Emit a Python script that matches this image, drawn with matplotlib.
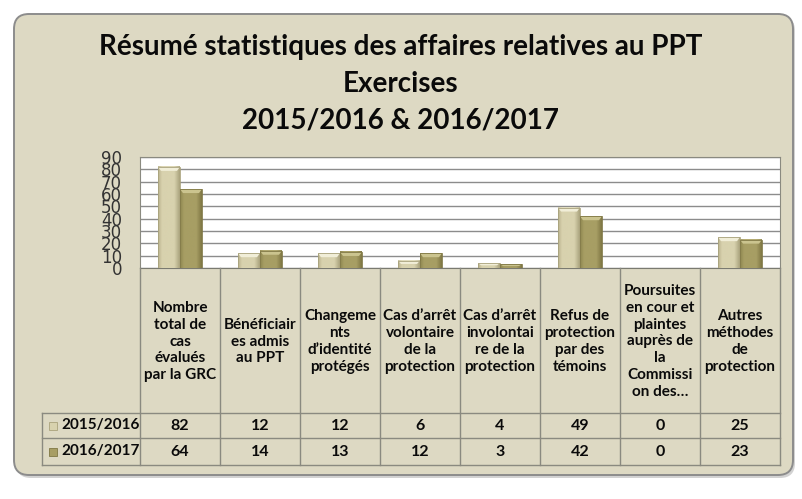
import numpy as np
import matplotlib
matplotlib.use("Agg")
import matplotlib.pyplot as plt
from matplotlib.patches import FancyBboxPatch, Polygon, Rectangle
from matplotlib.colors import LinearSegmentedColormap

# ── data ──────────────────────────────────────────────────────────────────────
CATEGORIES = [
    "Nombre\ntotal de\ncas\névalués\npar la GRC",
    "Bénéficiair\nes admis\nau PPT",
    "Changeme\nnts\nd’identité\nprotégés",
    "Cas d’arrêt\nvolontaire\nde la\nprotection",
    "Cas d’arrêt\ninvolontai\nre de la\nprotection",
    "Refus de\nprotection\npar des\ntémoins",
    "Poursuites\nen cour et\nplaintes\nauprès de\nla\nCommissi\non des…",
    "Autres\nméthodes\nde\nprotection",
]
SERIES = ["2015/2016", "2016/2017"]
VALUES_1516 = [82, 12, 12, 6, 4, 49, 0, 25]
VALUES_1617 = [64, 14, 13, 12, 3, 42, 0, 23]
YTICKS = list(range(0, 100, 10))
TITLE_LINES = [
    "Résumé statistiques des affaires relatives au PPT",
    "Exercises",
    "2015/2016 & 2016/2017",
]

# ── style ─────────────────────────────────────────────────────────────────────
BG = "#DDD9C3"
GRID = "#8C8C8C"
LINE = "#8A8A80"
BAR_COLORS = [
    ("#B9B28C", "#D8D2AE", "#A9A27C", "#F1EED8"),   # light series: left, mid, right, top
    ("#8E864F", "#A79E64", "#7F7744", "#CBC48F"),   # dark series
]
W, H = 802, 499
FONT = "Lato"

fig = plt.figure(figsize=(W / 100, H / 100), dpi=100, facecolor="white")

# background panel in pixel coordinates
bg = fig.add_axes([0, 0, 1, 1], zorder=-5)
bg.set_xlim(0, W); bg.set_ylim(H, 0); bg.axis("off")
bg.add_patch(FancyBboxPatch((16, 16), 779, 462,
                            boxstyle="round,pad=0,rounding_size=15",
                            facecolor="#B5B5B5", edgecolor="none", alpha=0.6))
bg.add_patch(FancyBboxPatch((14, 14), 779, 461,
                            boxstyle="round,pad=0,rounding_size=15",
                            facecolor=BG, edgecolor="#8C8C8C", linewidth=1.4))

# title
for line, base in zip(TITLE_LINES, [55, 92, 128]):
    fig.text(0.5, 1 - base / H, line, ha="center", va="baseline",
             fontsize=20, fontweight="bold", family=FONT, color="#0A0A0A")

# ── bars ──────────────────────────────────────────────────────────────────────
PLOT_L, PLOT_R, PLOT_T, PLOT_B = 140, 780, 157, 268
ax = fig.add_axes([PLOT_L / W, 1 - PLOT_B / H, (PLOT_R - PLOT_L) / W,
                   (PLOT_B - PLOT_T) / H])
ax.set_facecolor("white")
n = len(CATEGORIES)
x = np.arange(n)
bw = 0.275
bar_sets = []
for k, vals in enumerate([VALUES_1516, VALUES_1617]):
    offs = (k - 0.5) * bw
    bars = ax.bar(x + offs, vals, width=bw, color=BAR_COLORS[k][1],
                  edgecolor="none", zorder=3, label=SERIES[k])
    bar_sets.append(bars)

# bevel shading on each bar
px_x = n / (PLOT_R - PLOT_L)        # data units per px
px_y = 90 / (PLOT_B - PLOT_T)
for k, bars in enumerate(bar_sets):
    left, mid, right, top = BAR_COLORS[k]
    cmap = LinearSegmentedColormap.from_list(
        "b%d" % k, [(0, left), (0.18, mid), (0.75, mid), (1, right)])
    grad = np.linspace(0, 1, 64).reshape(1, -1)
    for p in bars:
        x0, _ = p.get_xy()
        w, h = p.get_width(), p.get_height()
        if h <= 0:
            continue
        ax.imshow(grad, extent=(x0, x0 + w, 0, h), aspect="auto",
                  cmap=cmap, zorder=3.1, interpolation="bilinear")
        dx, dy = 3 * px_x, min(4 * px_y, h * 0.45)
        ax.add_patch(Polygon([(x0, h), (x0 + w, h), (x0 + w - dx, h - dy),
                              (x0 + dx, h - dy)], closed=True,
                             facecolor=top, edgecolor="none", zorder=3.2))
        ax.add_patch(Rectangle((x0, 0), w, h, facecolor="none",
                               edgecolor=right, linewidth=0.6, zorder=3.3))

ax.set_xlim(-0.5, n - 0.5)
ax.set_ylim(0, 90)
ax.set_xticks([])
ax.set_yticks(YTICKS)
ax.set_yticklabels([str(t) for t in YTICKS], fontsize=12, color="#333333",
                   family="DejaVu Sans")
ax.tick_params(axis="y", length=0, pad=13)
ax.grid(axis="y", color=GRID, linewidth=1, zorder=1)
for side in ["left", "top", "right"]:
    ax.spines[side].set_color(LINE)
ax.spines["bottom"].set_color("#7A7A70")

# ── data table ────────────────────────────────────────────────────────────────
TAB_B = 465
ROW1, ROW2 = 413, 438
ta = fig.add_axes([PLOT_L / W, 1 - TAB_B / H, (PLOT_R - PLOT_L) / W,
                   (TAB_B - PLOT_B) / H])
ta.set_xlim(-0.5, n - 0.5)
ta.set_ylim(TAB_B, PLOT_B)
ta.axis("off")


def xpx(px):
    return (px - PLOT_L) / (PLOT_R - PLOT_L) * n - 0.5


lkw = dict(color=LINE, linewidth=1, clip_on=False)
for i in range(n + 1):
    ta.plot([i - 0.5, i - 0.5], [PLOT_B, TAB_B], **lkw)
for yy in [ROW1, ROW2, TAB_B]:
    ta.plot([xpx(42), n - 0.5], [yy, yy], **lkw)
ta.plot([xpx(42), xpx(42)], [ROW1, TAB_B], **lkw)

for i, lab in enumerate(CATEGORIES):
    ta.text(i, (PLOT_B + ROW1) / 2 + 1, lab, ha="center", va="center",
            fontsize=11, fontweight="bold", family=FONT, linespacing=1.27,
            color="#0A0A0A")

for k, (vals, yc) in enumerate([(VALUES_1516, (ROW1 + ROW2) / 2),
                                (VALUES_1617, (ROW2 + TAB_B) / 2)]):
    for i, v in enumerate(vals):
        ta.text(i, yc, str(v), ha="center", va="center", fontsize=11.5,
                fontweight="bold", family=FONT, color="#0A0A0A")
    ta.add_patch(Rectangle((xpx(49), yc + 4), xpx(57) - xpx(49), -8,
                           facecolor=BAR_COLORS[k][1],
                           edgecolor=BAR_COLORS[k][2], linewidth=0.6,
                           clip_on=False))
    ta.text(xpx(61), yc, SERIES[k], ha="left", va="center", fontsize=11,
            fontweight="bold", family=FONT, color="#0A0A0A")

fig.savefig("out.png", dpi=100, facecolor="white")
